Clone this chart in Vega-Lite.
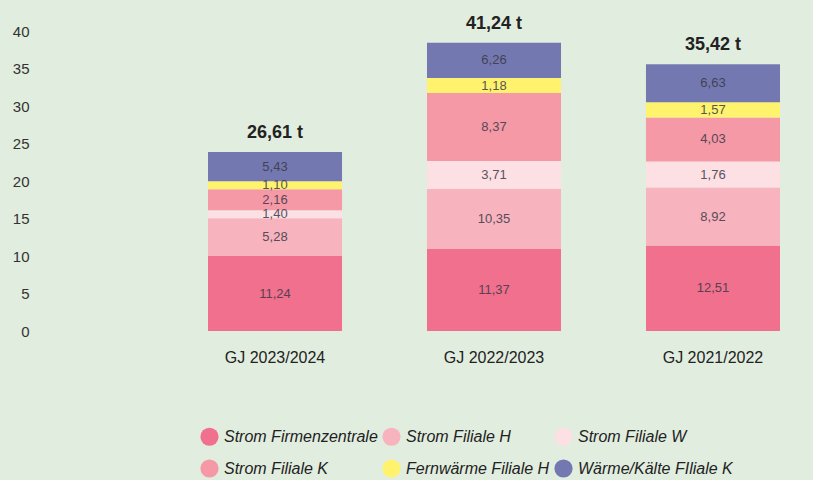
{
  "$schema": "https://vega.github.io/schema/vega-lite/v6.json",
  "width": 572,
  "height": 300,
  "autosize": {"type": "none"},
  "padding": {"left": 208, "top": 31, "right": 33, "bottom": 149},
  "background": "#e1eddf",
  "config": {
    "view": {"stroke": null},
    "font": "Liberation Sans",
    "axisY": {"title": null, "grid": false, "ticks": false, "domain": false, "values": [0, 5, 10, 15, 20, 25, 30, 35, 40], "labelOverlap": false, "offset": 170, "labelPadding": 9, "labelFontSize": 15, "labelColor": "#333333"}
  },
  "data": {
    "values": [
      {"year": "GJ 2023/2024", "series": "Strom Firmenzentrale", "rank": 1, "value": 10.0, "label": "11,24", "total": "26,61 t"},
      {"year": "GJ 2023/2024", "series": "Strom Filiale H", "rank": 2, "value": 5.03, "label": "5,28", "total": "26,61 t"},
      {"year": "GJ 2023/2024", "series": "Strom Filiale W", "rank": 3, "value": 1.07, "label": "1,40", "total": "26,61 t"},
      {"year": "GJ 2023/2024", "series": "Strom Filiale K", "rank": 4, "value": 2.8, "label": "2,16", "total": "26,61 t"},
      {"year": "GJ 2023/2024", "series": "Fernwärme Filiale H", "rank": 5, "value": 1.07, "label": "1,10", "total": "26,61 t"},
      {"year": "GJ 2023/2024", "series": "Wärme/Kälte FIliale K", "rank": 6, "value": 3.9, "label": "5,43", "total": "26,61 t"},
      {"year": "GJ 2022/2023", "series": "Strom Firmenzentrale", "rank": 1, "value": 10.93, "label": "11,37", "total": "41,24 t"},
      {"year": "GJ 2022/2023", "series": "Strom Filiale H", "rank": 2, "value": 8.0, "label": "10,35", "total": "41,24 t"},
      {"year": "GJ 2022/2023", "series": "Strom Filiale W", "rank": 3, "value": 3.73, "label": "3,71", "total": "41,24 t"},
      {"year": "GJ 2022/2023", "series": "Strom Filiale K", "rank": 4, "value": 9.07, "label": "8,37", "total": "41,24 t"},
      {"year": "GJ 2022/2023", "series": "Fernwärme Filiale H", "rank": 5, "value": 2.0, "label": "1,18", "total": "41,24 t"},
      {"year": "GJ 2022/2023", "series": "Wärme/Kälte FIliale K", "rank": 6, "value": 4.7, "label": "6,26", "total": "41,24 t"},
      {"year": "GJ 2021/2022", "series": "Strom Firmenzentrale", "rank": 1, "value": 11.4, "label": "12,51", "total": "35,42 t"},
      {"year": "GJ 2021/2022", "series": "Strom Filiale H", "rank": 2, "value": 7.73, "label": "8,92", "total": "35,42 t"},
      {"year": "GJ 2021/2022", "series": "Strom Filiale W", "rank": 3, "value": 3.47, "label": "1,76", "total": "35,42 t"},
      {"year": "GJ 2021/2022", "series": "Strom Filiale K", "rank": 4, "value": 5.87, "label": "4,03", "total": "35,42 t"},
      {"year": "GJ 2021/2022", "series": "Fernwärme Filiale H", "rank": 5, "value": 2.04, "label": "1,57", "total": "35,42 t"},
      {"year": "GJ 2021/2022", "series": "Wärme/Kälte FIliale K", "rank": 6, "value": 5.07, "label": "6,63", "total": "35,42 t"}
    ]
  },
  "transform": [
    {"stack": "value", "groupby": ["year"], "sort": [{"field": "rank", "order": "ascending"}], "as": ["v0", "v1"]}
  ],
  "encoding": {
    "x": {
      "field": "year",
      "type": "nominal",
      "sort": ["GJ 2023/2024", "GJ 2022/2023", "GJ 2021/2022"],
      "scale": {"paddingInner": 0.388, "paddingOuter": 0},
      "axis": {"title": null, "labelAngle": 0, "ticks": false, "domain": false, "labelFontSize": 16, "labelColor": "#222222", "labelPadding": 18}
    }
  },
  "layer": [
    {
      "mark": {"type": "bar"},
      "encoding": {
        "y": {
          "field": "v0",
          "type": "quantitative",
          "scale": {"domain": [0, 40], "nice": false},
          "axis": {"values": [0, 5, 10, 15, 20, 25, 30, 35, 40], "labelOverlap": false}
        },
        "y2": {"field": "v1"},
        "color": {
          "field": "series",
          "type": "nominal",
          "scale": {
            "domain": ["Strom Firmenzentrale", "Strom Filiale H", "Strom Filiale W", "Strom Filiale K", "Fernwärme Filiale H", "Wärme/Kälte FIliale K"],
            "range": ["#f0708e", "#f7b3be", "#fce0e3", "#f599a7", "#fff36e", "#7478b0"]
          },
          "legend": {
            "title": null,
            "orient": "none",
            "legendX": -8,
            "legendY": 396,
            "direction": "horizontal",
            "columns": 3,
            "symbolType": "circle",
            "symbolSize": 330,
            "symbolStrokeWidth": 0,
            "symbolOpacity": 1,
            "labelFontSize": 16,
            "labelFontStyle": "italic",
            "labelColor": "#222222",
            "labelOffset": 5,
            "labelLimit": 300,
            "columnPadding": 4,
            "rowPadding": 13
          }
        }
      }
    },
    {
      "transform": [
        {"fold": ["v0", "v1"], "as": ["edge", "pos"]},
        {"aggregate": [{"op": "mean", "field": "pos", "as": "mid"}], "groupby": ["year", "series", "label"]}
      ],
      "mark": {"type": "text", "fontSize": 13, "color": "#3a3a48", "opacity": 0.85, "baseline": "middle"},
      "encoding": {
        "y": {"field": "mid", "type": "quantitative", "axis": {"values": [0, 5, 10, 15, 20, 25, 30, 35, 40], "labelOverlap": false}},
        "text": {"field": "label"}
      }
    },
    {
      "transform": [{"aggregate": [{"op": "max", "field": "v1", "as": "top"}], "groupby": ["year", "total"]}],
      "mark": {"type": "text", "fontSize": 18, "fontWeight": "bold", "color": "#222222", "baseline": "middle", "dy": -19},
      "encoding": {
        "y": {"field": "top", "type": "quantitative", "axis": {"values": [0, 5, 10, 15, 20, 25, 30, 35, 40], "labelOverlap": false}},
        "text": {"field": "total"}
      }
    }
  ]
}
